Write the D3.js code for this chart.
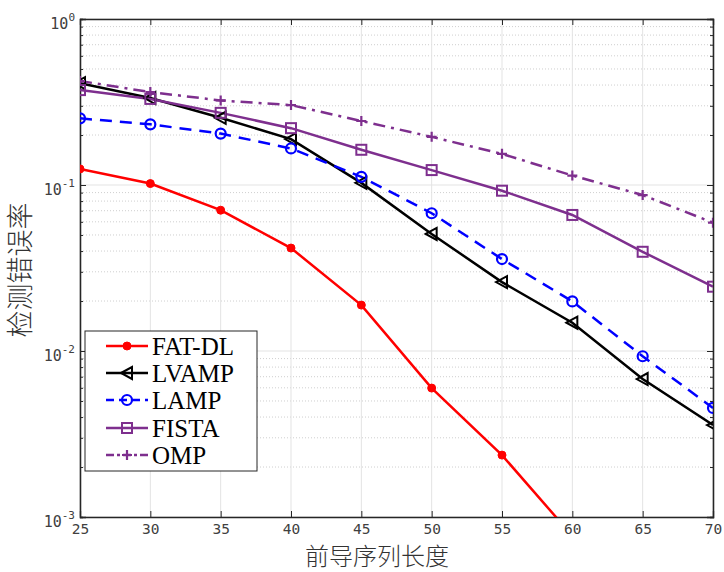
<!DOCTYPE html>
<html><head><meta charset="utf-8">
<script src="https://cdn.jsdelivr.net/npm/d3@7"></script>
<style>body{margin:0;background:#fff}</style>
</head><body>
<svg id="c" width="724" height="572"></svg>
<script>
const xVals = [25,30,35,40,45,50,55,60,65,70];
const fatdl = [0.125,0.102,0.0705,0.0417,0.0189,0.00598,0.00236,0.00077];
const lvamp = [0.411,0.334,0.254,0.189,0.103,0.0507,0.026,0.0148,0.00678,0.00358];
const lamp  = [0.252,0.232,0.204,0.166,0.112,0.0676,0.0358,0.0199,0.0093,0.00454];
const fista = [0.373,0.330,0.272,0.220,0.163,0.123,0.0924,0.066,0.0396,0.0244];
const omp   = [0.423,0.363,0.323,0.303,0.243,0.195,0.154,0.114,0.087,0.0593];
const seriesNames = ["FAT-DL","LVAMP","LAMP","FISTA","OMP"];
const xTicks = [25,30,35,40,45,50,55,60,65,70];
const yTicks = [1e-3,1e-2,1e-1,1];
const yExps = ["-3","-2","-1","0"];
const xLabel = "前导序列长度";
const yLabel = "检测错误率";

const svg = d3.select("#c");
const L=80, R=713, T=19, B=517;
const x = d3.scaleLinear().domain([25,70]).range([L,R]);
const y = d3.scaleLog().domain([1e-3,1]).range([B,T]);
const purple = "#7e2f8e";

const styles = [
  {data:fatdl, color:"#ff0000", dash:null, marker:"dot"},
  {data:lvamp, color:"#000000", dash:null, marker:"tri"},
  {data:lamp, color:"#0000ff", dash:"12,8", marker:"circle"},
  {data:fista, color:purple, dash:null, marker:"square"},
  {data:omp, color:purple, dash:"12,6,3,6", marker:"plus"}
];

// grid
const g = svg.append("g");
const minor = [];
for (let e=-3;e<0;e++) for (let k=2;k<=9;k++) minor.push(k*Math.pow(10,e));
g.selectAll(".mg").data(minor).enter().append("line")
  .attr("x1",L).attr("x2",R).attr("y1",d=>y(d)).attr("y2",d=>y(d))
  .attr("stroke","#cfcfcf").attr("stroke-width",1).attr("stroke-dasharray","1,2");
g.selectAll(".vg").data(xTicks).enter().append("line")
  .attr("x1",d=>x(d)).attr("x2",d=>x(d)).attr("y1",T).attr("y2",B)
  .attr("stroke","#e3e3e3").attr("stroke-width",1);
g.selectAll(".hg").data(yTicks).enter().append("line")
  .attr("x1",L).attr("x2",R).attr("y1",d=>y(d)).attr("y2",d=>y(d))
  .attr("stroke","#e3e3e3").attr("stroke-width",1);

// axes
const xa = svg.append("g").attr("transform",`translate(0,${B})`)
  .call(d3.axisBottom(x).tickValues(xTicks).tickSize(-6).tickPadding(7).tickFormat(d3.format("d")));
const xt = svg.append("g").attr("transform",`translate(0,${T})`)
  .call(d3.axisTop(x).tickValues(xTicks).tickSize(-6).tickFormat(""));
const ya = svg.append("g").attr("transform",`translate(${L},0)`)
  .call(d3.axisLeft(y).tickValues(yTicks).tickSize(-6).tickFormat(""));
const yr = svg.append("g").attr("transform",`translate(${R},0)`)
  .call(d3.axisRight(y).tickValues(yTicks).tickSize(-6).tickFormat(""));
const yam = svg.append("g").attr("transform",`translate(${L},0)`)
  .call(d3.axisLeft(y).tickValues(minor).tickSize(-3).tickFormat(""));
const yrm = svg.append("g").attr("transform",`translate(${R},0)`)
  .call(d3.axisRight(y).tickValues(minor).tickSize(-3).tickFormat(""));
[xa,xt,ya,yr,yam,yrm].forEach(a=>{
  a.select(".domain").attr("stroke","#262626").attr("stroke-width",1.3);
  a.selectAll(".tick line").attr("stroke","#262626").attr("stroke-width",1);
});
xa.selectAll(".tick text").attr("font-family","DejaVu Sans Mono").attr("font-size",14.5).attr("fill","#404040");

// y tick labels with superscripts
const yl = svg.append("g");
yTicks.forEach((t,i)=>{
  const tx = yl.append("text").attr("x",L-5).attr("y",y(t)+10).attr("text-anchor","end")
    .attr("font-family","DejaVu Sans Mono").attr("font-size",15).attr("fill","#404040");
  tx.append("tspan").text("10");
  tx.append("tspan").attr("dy",-8).attr("font-size",11).text(yExps[i]);
});

// clip
svg.append("clipPath").attr("id","clip").append("rect").attr("x",L).attr("y",T).attr("width",R-L).attr("height",B-T);

function drawMarker(sel, type, color){
  if (type==="dot") sel.append("circle").attr("r",4).attr("fill",color).attr("stroke",color);
  else if (type==="circle") sel.append("circle").attr("r",5).attr("fill","none").attr("stroke",color).attr("stroke-width",2.2);
  else if (type==="square") sel.append("rect").attr("x",-5).attr("y",-5).attr("width",10).attr("height",10).attr("fill","none").attr("stroke",color).attr("stroke-width",2);
  else if (type==="tri") sel.append("path").attr("d","M-6,0L5,-6L5,6Z").attr("fill","none").attr("stroke",color).attr("stroke-width",2);
  else if (type==="plus") sel.append("path").attr("d","M-5,0H5M0,-5V5").attr("stroke",color).attr("stroke-width",2.2);
}

const plot = svg.append("g").attr("clip-path","url(#clip)");
const line = d3.line().x((d,i)=>x(xVals[i])).y(d=>y(d));
styles.forEach(s=>{
  plot.append("path").datum(s.data).attr("d",line).attr("fill","none")
    .attr("stroke",s.color).attr("stroke-width",2.5).attr("stroke-dasharray",s.dash);
});
styles.forEach(s=>{
  s.data.forEach((v,i)=>{
    const m = plot.append("g").attr("transform",`translate(${x(xVals[i])},${y(v)})`);
    drawMarker(m, s.marker, s.color);
  });
});

// legend
const lg = svg.append("g");
lg.append("rect").attr("x",85).attr("y",331).attr("width",172).attr("height",140)
  .attr("fill","#fff").attr("stroke","#262626").attr("stroke-width",1);
const ly = [346,373,400,428,455];
styles.forEach((s,i)=>{
  lg.append("line").attr("x1",106).attr("x2",148).attr("y1",ly[i]).attr("y2",ly[i])
    .attr("stroke",s.color).attr("stroke-width",2.5).attr("stroke-dasharray",s.dash?(s.marker==="plus"?"8,3,3,3":"8,5"):null);
  const m = lg.append("g").attr("transform",`translate(127,${ly[i]})`);
  drawMarker(m, s.marker, s.color);
  lg.append("text").attr("x",152).attr("y",ly[i]+9).text(seriesNames[i])
    .attr("font-family","Liberation Serif").attr("font-size",25).attr("fill","#000");
});

// axis labels
svg.append("text").attr("x",377).attr("y",565).attr("text-anchor","middle")
  .attr("font-family","Noto Sans CJK SC").attr("font-size",24).attr("font-weight",300).attr("fill","#333").text(xLabel);
svg.append("text").attr("transform",`translate(30,270) rotate(-90)`).attr("text-anchor","middle")
  .attr("font-family","Noto Sans CJK SC").attr("font-size",27).attr("font-weight",300).attr("fill","#333").text(yLabel);
</script>
</body></html>
